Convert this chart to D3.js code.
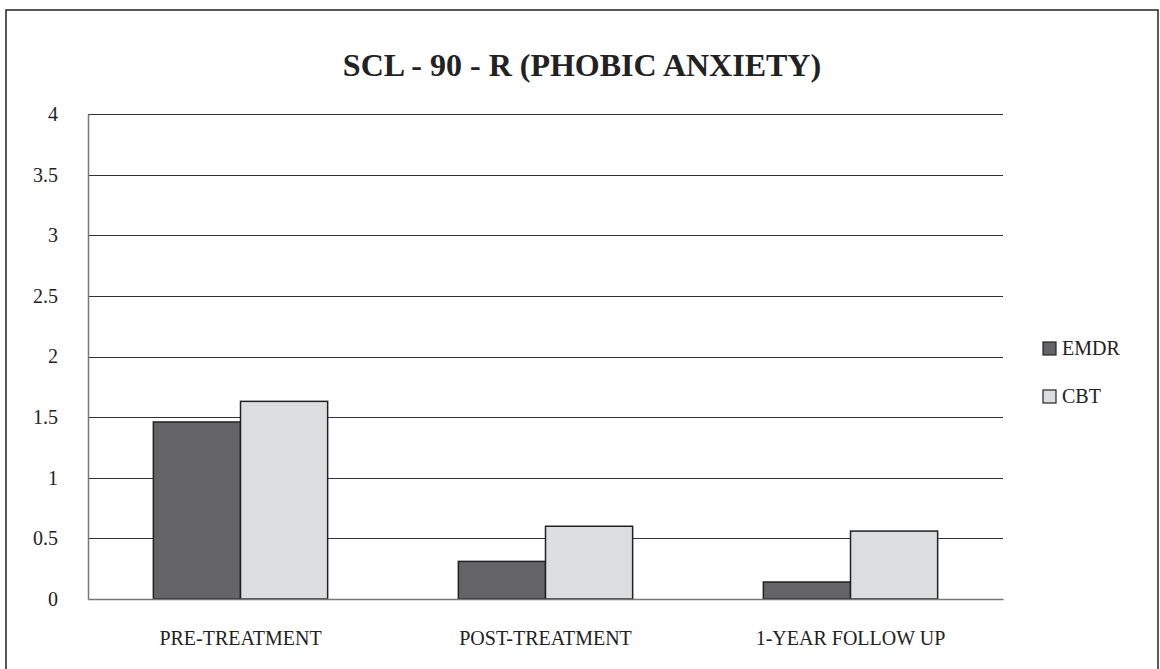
<!DOCTYPE html>
<html>
<head>
<meta charset="utf-8">
<script src="https://cdn.jsdelivr.net/npm/d3@7"></script>
<style>
  body { margin: 0; background: #fff; }
</style>
</head>
<body>
<div id="chart"></div>
<script>
var categories = ["PRE-TREATMENT", "POST-TREATMENT", "1-YEAR FOLLOW UP"];
var seriesNames = ["EMDR", "CBT"];
var emdrValues = [1.46, 0.31, 0.14];
var cbtValues = [1.63, 0.60, 0.56];
var yTicks = [0, 0.5, 1, 1.5, 2, 2.5, 3, 3.5, 4];
var colors = ["#646466", "#dcdddf"];

var serif = "'Liberation Serif', 'Times New Roman', serif";
var width = 1160, height = 669;
var margin = {top: 114, right: 157, bottom: 69, left: 88};

var svg = d3.select("#chart")
  .append("svg")
  .attr("width", width)
  .attr("height", height);

// outer frame (bottom edge runs off the page)
svg.append("rect")
  .attr("x", 6).attr("y", 10)
  .attr("width", 1152).attr("height", 700)
  .attr("fill", "none")
  .attr("stroke", "#222")
  .attr("stroke-width", 1.5);

svg.append("text")
  .attr("x", 582)
  .attr("y", 76)
  .attr("text-anchor", "middle")
  .attr("font-family", serif)
  .attr("font-size", 32)
  .attr("font-weight", "bold")
  .attr("fill", "#222")
  .text("SCL - 90 - R (PHOBIC ANXIETY)");

var data = categories.map(function(c, i) {
  return {category: c, values: [emdrValues[i], cbtValues[i]]};
});

var x0 = d3.scaleBand()
  .domain(categories)
  .range([margin.left, width - margin.right])
  .padding(0);

var x1 = d3.scaleBand()
  .domain(seriesNames)
  .range([0, x0.bandwidth()])
  .paddingInner(0)
  .paddingOuter(0.75);

var yScale = d3.scaleLinear()
  .domain([0, 4])
  .range([height - margin.bottom - 1, margin.top]);

// gridlines
svg.append("g")
  .selectAll("line")
  .data(yTicks.filter(function(d) { return d > 0; }))
  .enter()
  .append("line")
    .attr("x1", margin.left)
    .attr("x2", width - margin.right)
    .attr("y1", function(d) { return Math.round(yScale(d)) + 0.5; })
    .attr("y2", function(d) { return Math.round(yScale(d)) + 0.5; })
    .attr("stroke", "#333")
    .attr("stroke-width", 1.2);

var yAxis = svg.append("g")
  .attr("transform", `translate(${margin.left},0)`)
  .call(d3.axisLeft(yScale).tickValues(yTicks).tickSize(0).tickPadding(30)
    .tickFormat(function(d) { return String(d); }));
yAxis.select(".domain").attr("stroke", "#777").attr("stroke-width", 1.5);
yAxis.selectAll("text")
  .attr("font-family", serif)
  .attr("font-size", 20)
  .attr("fill", "#222");

// bars
var groups = svg.selectAll(".grp")
  .data(data)
  .enter()
  .append("g")
    .attr("class", "grp")
    .attr("transform", function(d) { return `translate(${x0(d.category)},0)`; });

groups.selectAll("rect")
  .data(function(d) { return d.values.map(function(v, i) { return {name: seriesNames[i], value: v, i: i}; }); })
  .enter()
  .append("rect")
    .attr("x", function(d) { return x1(d.name); })
    .attr("y", function(d) { return yScale(d.value); })
    .attr("width", x1.bandwidth())
    .attr("height", function(d) { return yScale(0) - yScale(d.value); })
    .attr("fill", function(d) { return colors[d.i]; })
    .attr("stroke", "#222")
    .attr("stroke-width", 1.5);

var xAxis = svg.append("g")
  .attr("transform", `translate(0,${yScale(0)})`)
  .call(d3.axisBottom(x0).tickSize(0).tickPadding(32));
xAxis.select(".domain").attr("stroke", "#777").attr("stroke-width", 1.5);
xAxis.selectAll("text")
  .attr("font-family", serif)
  .attr("font-size", 20)
  .attr("fill", "#222");

// legend
var legend = svg.selectAll(".legend")
  .data(seriesNames)
  .enter()
  .append("g")
    .attr("class", "legend")
    .attr("transform", function(d, i) { return `translate(1043,${355 + i * 48})`; });

legend.append("rect")
  .attr("x", 0).attr("y", -13)
  .attr("width", 13).attr("height", 13)
  .attr("fill", function(d, i) { return colors[i]; })
  .attr("stroke", "#222")
  .attr("stroke-width", 1.2);

legend.append("text")
  .attr("x", 19)
  .attr("y", 0)
  .attr("font-family", serif)
  .attr("font-size", 20)
  .attr("fill", "#222")
  .text(function(d) { return d; });
</script>
</body>
</html>
